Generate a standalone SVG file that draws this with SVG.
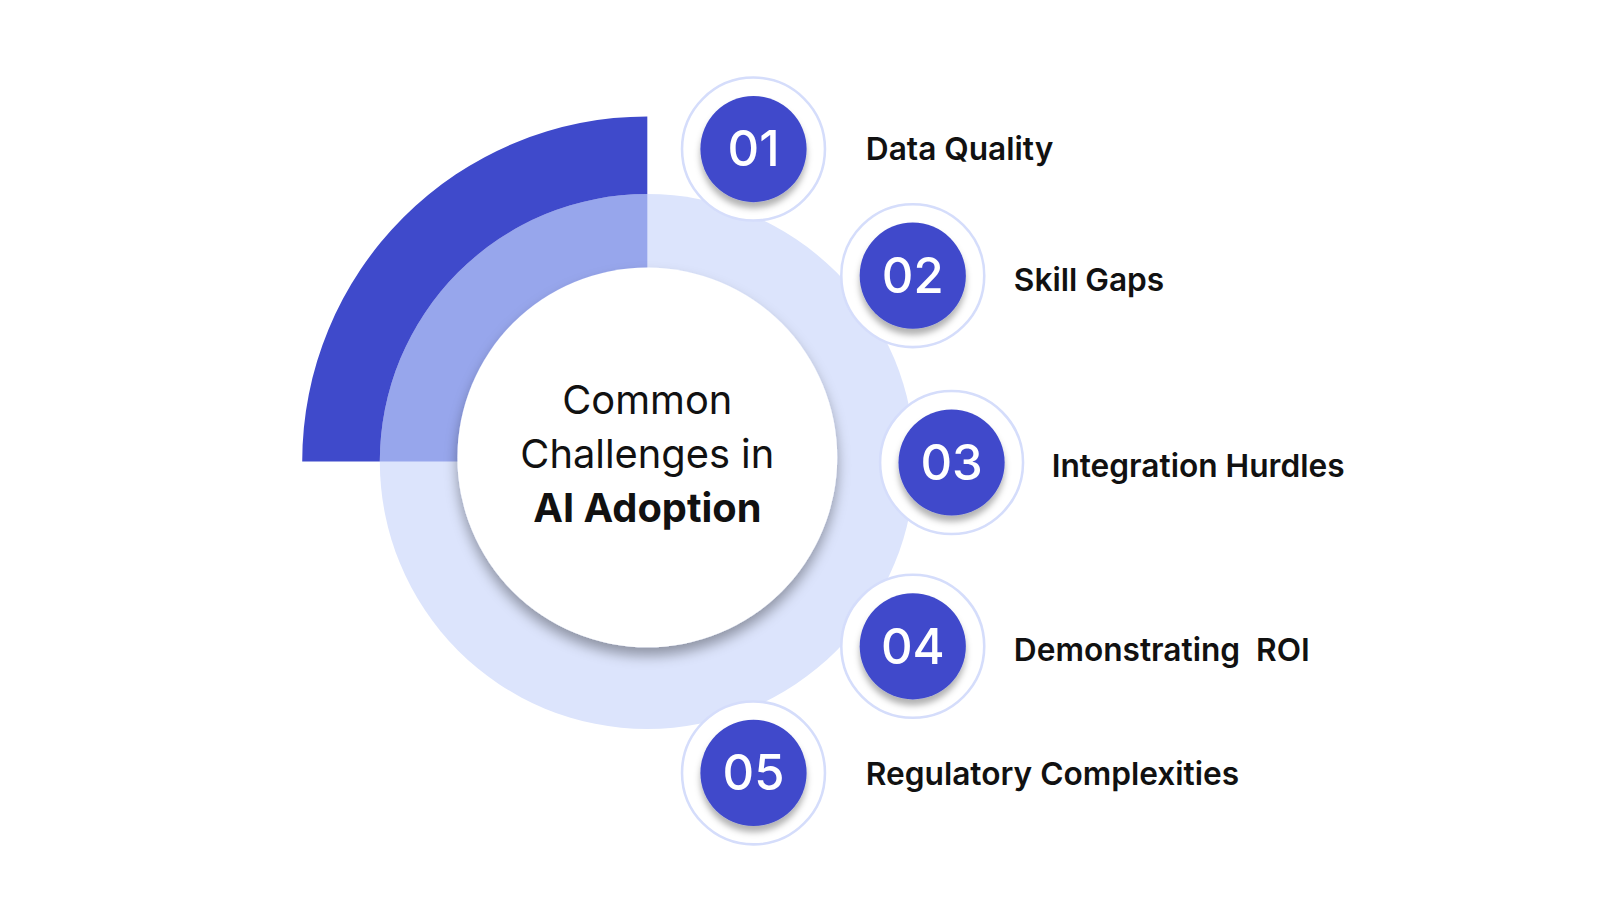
<svg xmlns="http://www.w3.org/2000/svg" width="1600" height="900" viewBox="0 0 1600 900">
<style>
.badge{fill:#3F4ACB}
.halo{fill:#fff;stroke:#D5DDFB;stroke-width:2.5}
.num{font-family:Inter,"Noto Sans",sans-serif;font-size:48px;font-weight:500;fill:#fff;text-anchor:middle}
.lbl{font-family:Inter,"Noto Sans",sans-serif;font-size:31px;font-weight:600;fill:#111}
.ct{font-family:Inter,"Noto Sans",sans-serif;font-size:39px;fill:#111;text-anchor:middle}
</style>
<defs>
<filter id="sh" x="-30%" y="-30%" width="160%" height="170%"><feDropShadow dx="0" dy="8" stdDeviation="6" flood-color="#000" flood-opacity="0.35"/></filter>
<filter id="sh2" x="-30%" y="-30%" width="160%" height="170%"><feDropShadow dx="0" dy="6" stdDeviation="3" flood-color="#000" flood-opacity="0.3"/></filter>
</defs>
<rect width="1600" height="900" fill="#fff"/>
<g transform="scale(1.021)">
<g id="ring">
<circle cx="634" cy="452" r="262" fill="#DCE4FC"/>
<path d="M634 452 L372 452 A262 262 0 0 1 634 190 Z" fill="#97A6EC"/>
<path d="M296 452 A338 338 0 0 1 634 114 L634 190 A262 262 0 0 0 372 452 Z" fill="#3F4ACB"/>
</g>
<g id="center">
<circle cx="634" cy="448" r="186" fill="#fff" filter="url(#sh)"/>
<text class="ct" x="634" y="405">Common</text>
<text class="ct" x="634" y="458">Challenges in</text>
<text class="ct" x="634" y="511" font-weight="700">AI Adoption</text>
</g>
<g id="n1"><circle class="halo" cx="738" cy="146" r="70"/><circle class="badge" cx="738" cy="146" r="52" filter="url(#sh2)"/><text class="num" x="738" y="163">01</text><text class="lbl" x="848" y="157">Data Quality</text></g>
<g id="n2"><circle class="halo" cx="894" cy="270" r="70"/><circle class="badge" cx="894" cy="270" r="52" filter="url(#sh2)"/><text class="num" x="894" y="287">02</text><text class="lbl" x="993" y="285">Skill Gaps</text></g>
<g id="n3"><circle class="halo" cx="932" cy="453" r="70"/><circle class="badge" cx="932" cy="453" r="52" filter="url(#sh2)"/><text class="num" x="932" y="470">03</text><text class="lbl" x="1030" y="467">Integration Hurdles</text></g>
<g id="n4"><circle class="halo" cx="894" cy="633" r="70"/><circle class="badge" cx="894" cy="633" r="52" filter="url(#sh2)"/><text class="num" x="894" y="650">04</text><text class="lbl" x="993" y="647" xml:space="preserve">Demonstrating  ROI</text></g>
<g id="n5"><circle class="halo" cx="738" cy="757" r="70"/><circle class="badge" cx="738" cy="757" r="52" filter="url(#sh2)"/><text class="num" x="738" y="774">05</text><text class="lbl" x="848" y="769">Regulatory Complexities</text></g>
<g id="connectors"/>
</g>
</svg>
